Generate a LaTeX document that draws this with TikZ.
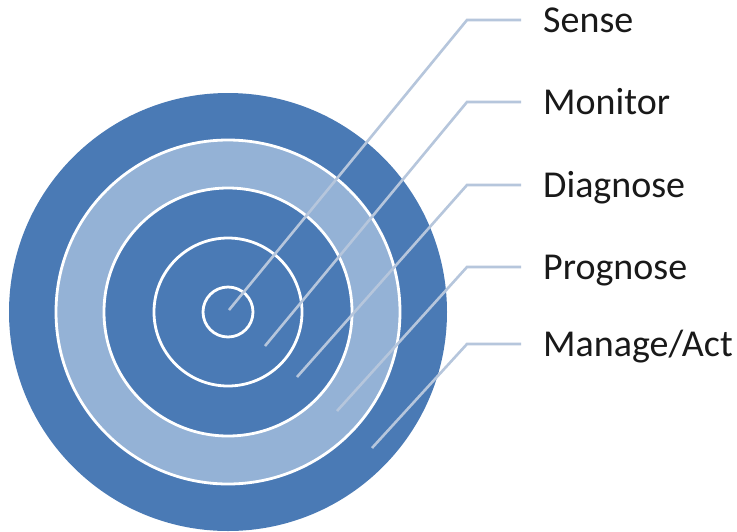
\documentclass[tikz,border=0pt]{standalone}
\usepackage{fontspec}
\setmainfont{Carlito}
\definecolor{ringdark}{HTML}{4A7AB5}
\definecolor{ringlight}{HTML}{94B2D6}
\definecolor{leader}{HTML}{B6C6DC}
\tikzset{
  sep/.style={draw=white, line width=2.8pt},
  lead/.style={draw=leader, line width=2.6pt},
  lbl/.style={anchor=base west, inner sep=0pt, font=\fontsize{38}{41}\selectfont, text=black!90}
}
\begin{document}
\begin{tikzpicture}[x=1pt,y=-1pt]
\useasboundingbox[fill=white] (0,0) rectangle (737,531);
\coordinate (c) at (228,312);
\fill[ringdark] (c) circle[radius=219pt];
\fill[ringlight] (c) circle[radius=172pt];
\fill[ringdark] (c) circle[radius=124pt];
\foreach \r in {172,124,74,25}{\draw[sep] (c) circle[radius=\r pt];}
% labels
\node[lbl] (sense) at (543,32) {Sense};
\node[lbl] (monitor) at (543,114) {Monitor};
\node[lbl] (diagnose) at (543,197) {Diagnose};
\node[lbl] (prognose) at (543,279) {Prognose};
\node[lbl] (manage) at (543,356) {Manage/Act};
% leader end points
\coordinate (s0) at (229,310); \coordinate (s1) at (467,20); \coordinate (s2) at (521,20);
\coordinate (m0) at (265,346); \coordinate (m1) at (467,102); \coordinate (m2) at (521,102);
\coordinate (d0) at (297,377); \coordinate (d1) at (467,185); \coordinate (d2) at (521,185);
\coordinate (p0) at (337,411); \coordinate (p1) at (467,267); \coordinate (p2) at (521,267);
\coordinate (a0) at (372,448); \coordinate (a1) at (467,344); \coordinate (a2) at (521,344);
\draw[lead] (s0) -- (s1) -- (s2);
\draw[lead] (m0) -- (m1) -- (m2);
\draw[lead] (d0) -- (d1) -- (d2);
\draw[lead] (p0) -- (p1) -- (p2);
\draw[lead] (a0) -- (a1) -- (a2);
\end{tikzpicture}
\end{document}
